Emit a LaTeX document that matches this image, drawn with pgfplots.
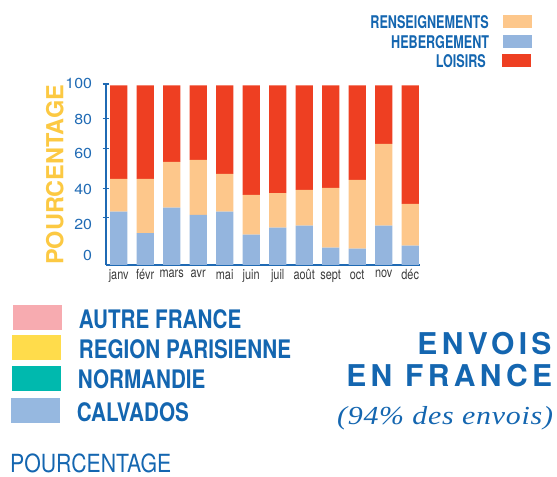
\documentclass[border=0pt]{standalone}
\usepackage{pgfplots}
\pgfplotsset{compat=1.18}
\usepackage{fontspec}
\setmainfont{TeX Gyre Heros}
\newfontfamily\legfont[FakeStretch=0.72]{TeX Gyre Heros}
\newfontfamily\bigleg[FakeStretch=0.81]{TeX Gyre Heros}
\newfontfamily\ylabfont{TeX Gyre Heros}
\newfontfamily\monthfont[FakeStretch=0.78]{TeX Gyre Heros}
\newfontfamily\tickfont[FakeStretch=1.1]{TeX Gyre Heros}
\newfontfamily\pctfont[FakeStretch=0.85]{TeX Gyre Heros}
\newfontfamily\envfont[LetterSpace=14.5]{TeX Gyre Heros}
\newfontfamily\itfont[FakeStretch=1.15,LetterSpace=3]{Liberation Serif}
\definecolor{redBar}{HTML}{EE3F22}
\definecolor{orangeBar}{HTML}{FDC78B}
\definecolor{blueBar}{HTML}{94B5DE}
\definecolor{txtblue}{HTML}{1466B0}
\definecolor{axisblue}{HTML}{1F6AB4}
\definecolor{monthgray}{HTML}{3A3A3A}
\definecolor{pinkBox}{HTML}{F7ABB0}
\definecolor{yellowBox}{HTML}{FFDC4B}
\definecolor{tealBox}{HTML}{00B9AE}
\definecolor{blueBox}{HTML}{96B8E0}
\definecolor{pctyellow}{HTML}{FCC943}
\begin{document}
\begin{tikzpicture}
\path (0,0) rectangle (557bp,477bp);
\begin{axis}[
  at={(105.7bp,212bp)}, anchor=south west,
  scale only axis, width=314.3bp, height=181.3bp,
  xmin=-0.49, xmax=11.37, ymin=0, ymax=101,
  enlargelimits=false, clip=false,
  ybar stacked, bar width=17.3bp,
  axis x line=bottom, axis y line=left,
  axis line style={-, draw=axisblue, line width=1.6bp},
  xtick={0,...,11},
  xticklabels={janv,févr,mars,avr,mai,juin,juil,août,sept,oct,nov,déc},
  x tick style={draw=none},
  xticklabel style={font=\monthfont\fontsize{14bp}{14bp}\selectfont, text=monthgray, inner sep=1.5bp},
  ytick={26.5,42.6,64.9,81.6,100.8}, yticklabels={},
  tick align=center, major tick length=6bp,
  y tick style={draw=axisblue, line width=1.2bp},
  extra y ticks={5.2,22.3,42.3,62.2,81.2,101},
  extra y tick labels={0,20,40,60,80,100},
  extra y tick style={major tick length=0pt},
  yticklabel style={font=\tickfont\fontsize{14.5bp}{14.5bp}\selectfont, text=axisblue, inner sep=0pt, xshift=-13.4bp},
  /pgf/number format/assume math mode=true,
]
\addplot[fill=blueBar, draw=none] coordinates {(0,29.7) (1,17.8) (2,32.0) (3,27.9) (4,29.7) (5,16.9) (6,20.8) (7,21.9) (8,9.7) (9,9.1) (10,21.9) (11,10.8)};
\addplot[fill=orangeBar, draw=none] coordinates {(0,18.3) (1,30.2) (2,25.4) (3,30.7) (4,21.0) (5,22.1) (6,19.3) (7,19.9) (8,33.2) (9,38.3) (10,45.6) (11,23.2)};
\addplot[fill=redBar, draw=none] coordinates {(0,52.0) (1,52.0) (2,42.6) (3,41.4) (4,49.3) (5,61.0) (6,59.9) (7,58.2) (8,57.1) (9,52.6) (10,32.5) (11,66.0)};
\end{axis}
% rotated y label
\node[rotate=90, anchor=base west, inner sep=0pt, text=pctyellow, font=\ylabfont\bfseries\fontsize{23.5bp}{23.5bp}\selectfont] at (63.3bp,212bp) {POURCENTAGE};
% top legend
\begin{scope}[every node/.style={anchor=base east, inner sep=0pt, text=txtblue, font=\legfont\bfseries\fontsize{17.5bp}{17.5bp}\selectfont}]
\node at (489bp,448.7bp) {RENSEIGNEMENTS};
\node at (489.3bp,428bp) {HEBERGEMENT};
\node at (486bp,409bp) {LOISIRS};
\end{scope}
\fill[orangeBar] (503bp,449bp) rectangle (532bp,462bp);
\fill[blueBar] (503bp,429bp) rectangle (532bp,442bp);
\fill[redBar] (502bp,410bp) rectangle (531bp,423bp);
% bottom legend
\fill[pinkBox] (13bp,147.3bp) rectangle (62bp,172bp);
\fill[yellowBox] (12bp,117.3bp) rectangle (61bp,142bp);
\fill[tealBox] (12bp,86bp) rectangle (61bp,111bp);
\fill[blueBox] (11bp,54.3bp) rectangle (60bp,79.3bp);
\begin{scope}[every node/.style={anchor=base west, inner sep=0pt, text=txtblue, font=\bigleg\bfseries\fontsize{25.5bp}{25.5bp}\selectfont}]
\node at (78.7bp,148bp) {AUTRE FRANCE};
\node at (78.7bp,118bp) {REGION PARISIENNE};
\node at (77.7bp,88bp) {NORMANDIE};
\node at (76.7bp,55.3bp) {CALVADOS};
\end{scope}
\node[anchor=base west, inner sep=0pt, text=txtblue, font=\pctfont\fontsize{25bp}{25bp}\selectfont] at (10bp,5bp) {POURCENTAGE};
% title block
\node[anchor=base east, inner sep=0pt, text=txtblue, font=\envfont\bfseries\fontsize{30bp}{30bp}\selectfont] at (551.7bp,122.7bp) {ENVOIS};
\node[anchor=base east, inner sep=0pt, text=txtblue, font=\envfont\bfseries\fontsize{30bp}{30bp}\selectfont] at (552.3bp,90bp) {EN FRANCE};
\node[anchor=base east, inner sep=0pt, text=txtblue, font=\itfont\itshape\fontsize{26bp}{26bp}\selectfont] at (553.3bp,52bp) {(94\% des envois)};
\end{tikzpicture}
\end{document}
